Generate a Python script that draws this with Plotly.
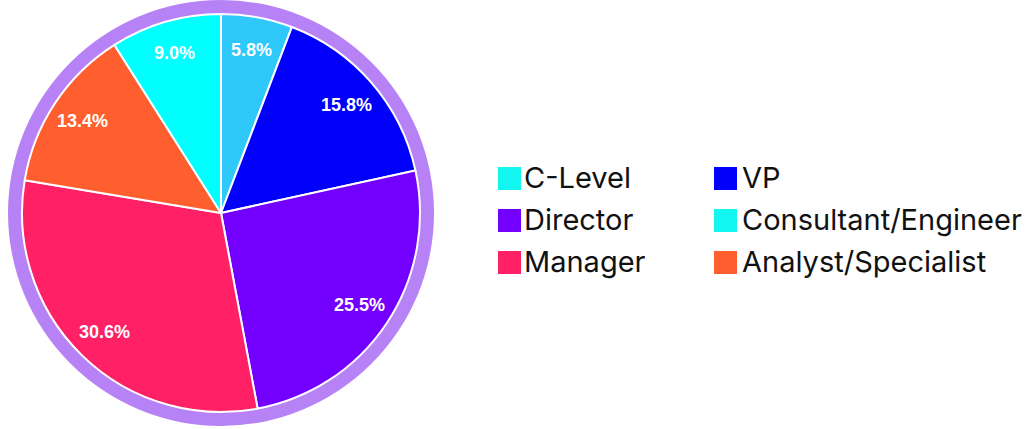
import math
import plotly.graph_objects as go

# Data
slice_labels = ["C-Level", "VP", "Director", "Manager", "Analyst/Specialist", "Consultant/Engineer"]
slice_values = [5.8, 15.8, 25.5, 30.6, 13.4, 9.0]
slice_colors = ["#2ec8fb", "#0000fb", "#7300ff", "#ff2066", "#ff5f2e", "#00ffff"]

legend_labels = ["C-Level", "VP", "Director", "Consultant/Engineer", "Manager", "Analyst/Specialist"]
legend_colors = ["#12f5f0", "#0000fb", "#7300ff", "#12f5f0", "#ff2066", "#ff5f2e"]

W, H = 1026, 429
cx, cy = 221, 213          # pie centre (px, from top)
r_pie, r_ring = 199, 213
label_frac = 0.835

def dom(r):
    return dict(x=[(cx - r) / W, (cx + r) / W],
                y=[(H - cy - r) / H, (H - cy + r) / H])

fig = go.Figure()
# outer purple ring (background disc)
fig.add_trace(go.Pie(values=[1], labels=["ring"], marker=dict(colors=["#b882f7"]),
                     domain=dom(r_ring), textinfo="none", showlegend=False,
                     hoverinfo="skip", sort=False))
# main pie
fig.add_trace(go.Pie(
    labels=slice_labels, values=slice_values, sort=False, direction="clockwise",
    rotation=0, domain=dom(r_pie),
    marker=dict(colors=slice_colors, line=dict(color="white", width=2)),
    textinfo="none", showlegend=False,
))

annotations, shapes = [], []
# slice percentage labels placed along each slice bisector
total = sum(slice_values)
cum = 0.0
for v in slice_values:
    mid = (cum + v / 2) / total * 2 * math.pi
    cum += v
    R = label_frac * r_pie
    px = cx + R * math.sin(mid)
    py = cy - R * math.cos(mid)
    annotations.append(dict(text=f"{v:.1f}%", xref="paper", yref="paper",
                            x=px / W, y=1 - py / H, xanchor="center", yanchor="middle",
                            showarrow=False,
                            font=dict(family="Liberation Sans, Arial", size=18,
                                      color="white", weight="bold")))

# custom two-column legend
col_sq_x = [498, 714]
col_tx_x = [522, 740]
row_y = [178.5, 220.5, 262.5]
sq = 23
for i, (lab, col) in enumerate(zip(legend_labels, legend_colors)):
    r, c = divmod(i, 2)
    x0 = col_sq_x[c]
    yc = row_y[r]
    shapes.append(dict(type="rect", xref="paper", yref="paper",
                       x0=x0 / W, x1=(x0 + sq) / W,
                       y0=1 - (yc + sq / 2) / H, y1=1 - (yc - sq / 2) / H,
                       fillcolor=col, line=dict(width=0)))
    annotations.append(dict(text=lab, xref="paper", yref="paper",
                            x=col_tx_x[c] / W, y=1 - (yc - 1) / H,
                            xanchor="left", yanchor="middle", showarrow=False,
                            font=dict(family="Inter", size=29, color="#111111")))

fig.update_layout(width=W, height=H, margin=dict(l=0, r=0, t=0, b=0),
                  paper_bgcolor="white", plot_bgcolor="white",
                  shapes=shapes, annotations=annotations, showlegend=False)

fig.write_html("out.html", config={"displayModeBar": False},
               post_script="document.body.style.margin='0';document.body.style.overflow='hidden';")
